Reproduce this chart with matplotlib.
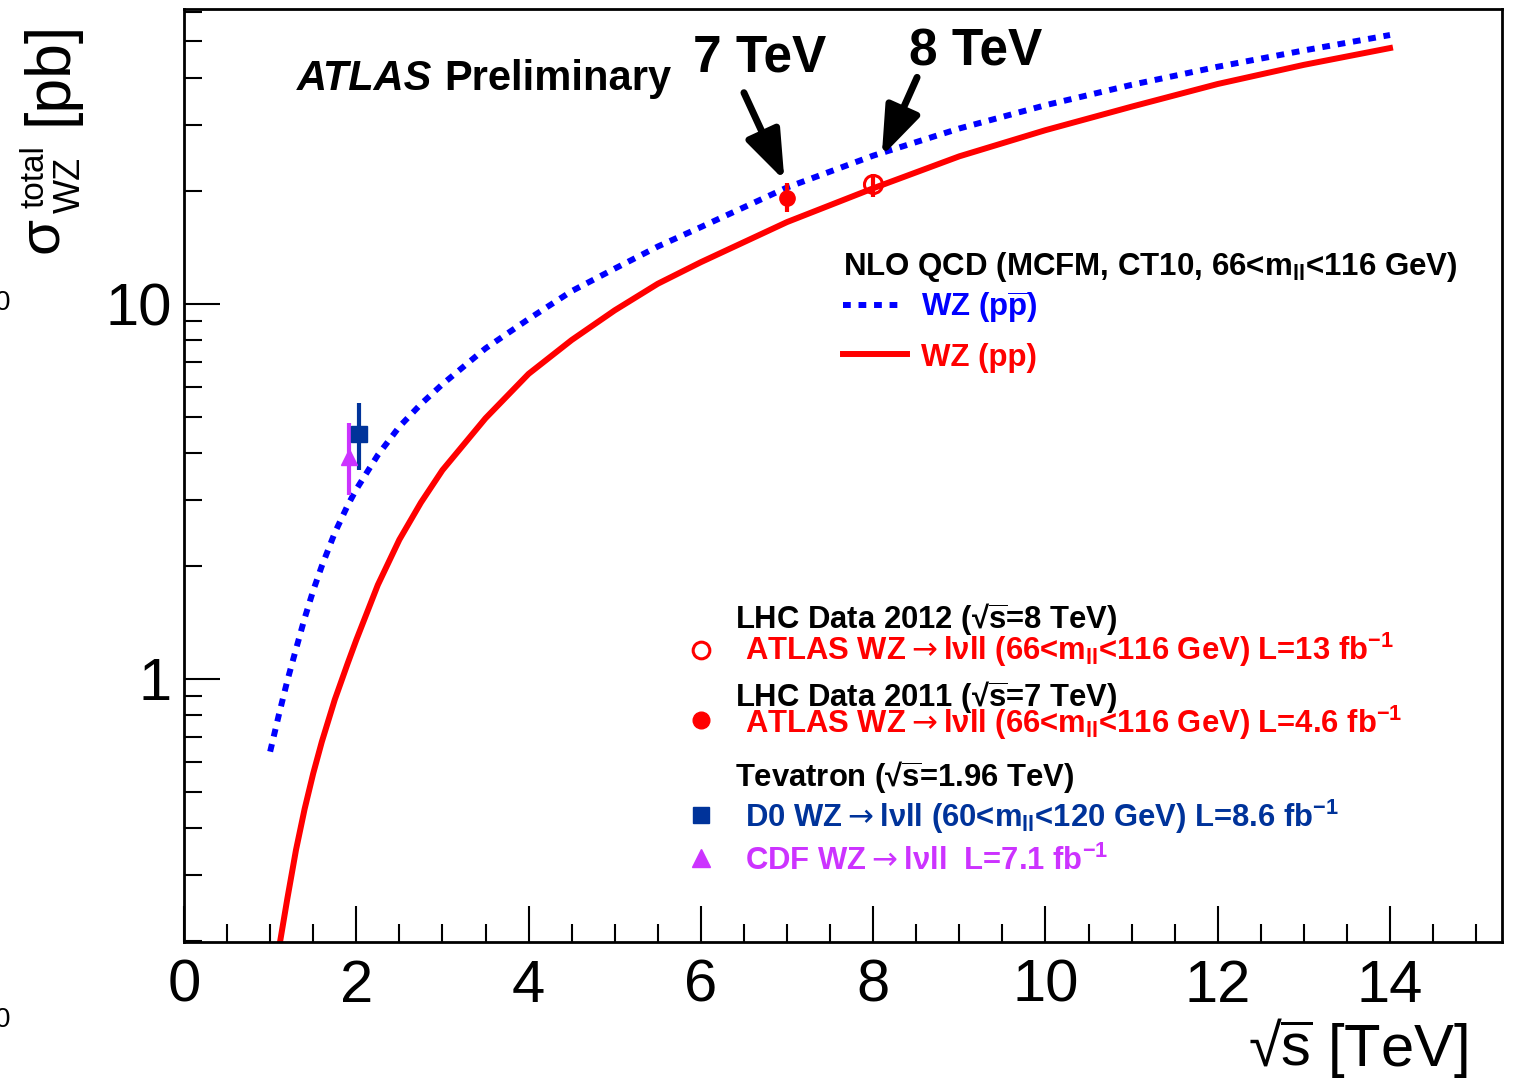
import matplotlib.pyplot as plt
from matplotlib.ticker import FixedLocator, FixedFormatter, NullFormatter, MultipleLocator

plt.rcParams["font.family"] = ["Liberation Sans", "DejaVu Sans"]

W, H = 1517, 1082

# NLO QCD predictions (MCFM, CT10, 66<mll<116 GeV)
pp_sqrts = [1.1, 1.2, 1.3, 1.4, 1.5, 1.6, 1.75, 1.9, 2.0, 2.25, 2.5, 2.75, 3.0, 3.5, 4.0, 4.5, 5.0,
            5.5, 6.0, 7.0, 8.0, 9.0, 10.0, 11.0, 12.0, 13.0, 14.0]
pp_xsec = [0.19, 0.26, 0.35, 0.45, 0.56, 0.68, 0.88, 1.1, 1.27, 1.78, 2.35, 2.95, 3.6, 4.95, 6.5, 8.0, 9.6,
           11.3, 12.9, 16.5, 20.3, 24.7, 29.0, 33.5, 38.5, 43.3, 48.0]
ppbar_sqrts = [1.0, 1.1, 1.2, 1.3, 1.4, 1.5, 1.6, 1.75, 1.9, 2.0, 2.25, 2.5, 2.75, 3.0, 3.5, 4.0, 4.5,
               5.0, 5.5, 6.0, 7.0, 8.0, 9.0, 10.0, 11.0, 12.0, 13.0, 14.0]
ppbar_xsec = [0.64, 0.80, 0.99, 1.2, 1.45, 1.72, 2.0, 2.45, 2.9, 3.2, 3.95, 4.7, 5.4, 6.1, 7.6, 9.1, 10.8,
              12.4, 14.2, 16.0, 20.4, 24.8, 29.3, 33.8, 38.3, 42.8, 47.3, 52.0]

# measurements: position, value, error down, error up
atlas12_x, atlas12_y, atlas12_lo, atlas12_hi = [8.0], [20.8], [1.5], [1.4]
atlas11_x, atlas11_y, atlas11_lo, atlas11_hi = [7.0], [19.1], [1.5], [1.9]
d0_x, d0_y, d0_lo, d0_hi = [2.03], [4.5], [0.9], [0.95]
cdf_x, cdf_y, cdf_lo, cdf_hi = [1.92], [3.9], [0.8], [0.9]

x_major = [0, 2, 4, 6, 8, 10, 12, 14]
y_major = [1, 10]
y_major_labels = ["1", "10"]
y_minor = [0.2, 0.3, 0.4, 0.5, 0.6, 0.7, 0.8, 0.9, 2, 3, 4, 5, 6, 7, 8, 9, 20, 30, 40, 50, 60]

RED = "#ff0000"
BLUE = "#0000ff"
DBLUE = "#00339a"
MAGENTA = "#cc33ff"
SQS = "√$\\overline{\\mathregular{s}}$"
ARR = "$\\rightarrow$"
MLL = "m$_{\\mathregular{ll}}$"
INV = "fb$^{\\mathregular{-1}}$"


def fxy(px, py):
    return px / W, 1 - py / H


fig = plt.figure(figsize=(W / 100, H / 100), dpi=100)
ax = fig.add_axes([184 / W, 1 - 942 / H, (1502 - 184) / W, (942 - 9) / H])

ax.plot(ppbar_sqrts, ppbar_xsec, color=BLUE, lw=4.3, ls=(0, (1.3, 1.3)), dash_capstyle="butt")
ax.plot(pp_sqrts, pp_xsec, color=RED, lw=4.3)

ax.errorbar(atlas12_x, atlas12_y, yerr=[atlas12_lo, atlas12_hi], fmt="o", ms=13, mfc="none",
            mec=RED, mew=2.2, color=RED, elinewidth=3, capsize=0)
ax.errorbar(atlas11_x, atlas11_y, yerr=[atlas11_lo, atlas11_hi], fmt="o", ms=11, color=RED,
            elinewidth=3, capsize=0)
ax.errorbar(cdf_x, cdf_y, yerr=[cdf_lo, cdf_hi], fmt="^", ms=12, color=MAGENTA,
            elinewidth=3, capsize=0)
ax.errorbar(d0_x, d0_y, yerr=[d0_lo, d0_hi], fmt="s", ms=11, color=DBLUE,
            elinewidth=3, capsize=0)

ax.set_yscale("log")
ax.set_xlim(0, 15.3)
ax.set_ylim(0.199, 61)
ax.xaxis.set_major_locator(FixedLocator(x_major))
ax.xaxis.set_minor_locator(MultipleLocator(0.5))
ax.yaxis.set_major_locator(FixedLocator(y_major))
ax.yaxis.set_major_formatter(FixedFormatter(y_major_labels))
ax.yaxis.set_minor_locator(FixedLocator(y_minor))
ax.yaxis.set_minor_formatter(NullFormatter())
ax.tick_params(which="both", direction="in", top=False, right=False, width=1.5)
ax.tick_params(which="major", length=26, labelsize=43)
ax.tick_params(which="minor", length=13)
ax.tick_params(axis="x", which="major", pad=12)
ax.tick_params(axis="y", which="major", pad=9)
for s in ax.spines.values():
    s.set_linewidth(2)

# arrows for 7 and 8 TeV
arrow = dict(arrowstyle="-|>,head_length=0.6,head_width=0.22", lw=5, color="black",
             mutation_scale=50, shrinkA=0, shrinkB=0)
ax.annotate("", xy=(6.97, 21.3), xytext=(6.50, 36.5), arrowprops=arrow)
ax.annotate("", xy=(8.10, 24.7), xytext=(8.51, 40.1), arrowprops=arrow)
fig.text(*fxy(760, 72), "7 TeV", ha="center", va="baseline", size=37, weight="bold")
fig.text(*fxy(976, 66), "8 TeV", ha="center", va="baseline", size=37, weight="bold")

# ATLAS label
fig.text(*fxy(297, 90), "ATLAS", ha="left", va="baseline", size=30, weight="bold", style="italic")
fig.text(*fxy(444, 90), "Preliminary", ha="left", va="baseline", size=30, weight="bold")

# theory legend
fig.text(*fxy(843, 275), "NLO QCD (MCFM, CT10, 66<" + MLL + "<116 GeV)",
         ha="left", va="baseline", size=22.5, weight="bold")
fig.add_artist(plt.Line2D([843 / W, 902 / W], [1 - 305 / H] * 2, color=BLUE, lw=4.3,
                          ls=(0, (1.3, 1.3)), dash_capstyle="butt"))
fig.text(*fxy(921, 317), "WZ (p$\\overline{\\mathregular{p}}$)", ha="left", va="baseline",
         size=22.5, weight="bold", color=BLUE)
fig.add_artist(plt.Line2D([843 / W, 907 / W], [1 - 354 / H] * 2, color=RED, lw=4.3))
fig.text(*fxy(921, 366), "WZ (pp)", ha="left", va="baseline", size=22.5, weight="bold", color=RED)

# data legend
entries = [
    (628, None, None, "LHC Data 2012 (" + SQS + "=8 TeV)", "black"),
    (660, 650, "open", "ATLAS WZ" + ARR + "lνll (66<" + MLL + "<116 GeV) L=13 " + INV, RED),
    (706, None, None, "LHC Data 2011 (" + SQS + "=7 TeV)", "black"),
    (733, 720, "filled", "ATLAS WZ" + ARR + "lνll (66<" + MLL + "<116 GeV) L=4.6 " + INV, RED),
    (786, None, None, "Tevatron (" + SQS + "=1.96 TeV)", "black"),
    (827, 815, "square", "D0 WZ" + ARR + "lνll (60<" + MLL + "<120 GeV) L=8.6 " + INV, DBLUE),
    (870, 858, "triangle", "CDF WZ" + ARR + "lνll  L=7.1 " + INV, MAGENTA),
]
for base, my, kind, label, col in entries:
    x0 = 735 if kind is None else 745
    fig.text(*fxy(x0, base), label, ha="left", va="baseline", size=22.3, weight="bold", color=col)
    if kind is None:
        continue
    mx, myf = fxy(701, my)
    if kind == "open":
        m = plt.Line2D([mx], [myf], marker="o", ms=12, mfc="none", mec=col, mew=2.2, ls="none")
    elif kind == "filled":
        m = plt.Line2D([mx], [myf], marker="o", ms=12, color=col, ls="none")
    elif kind == "square":
        m = plt.Line2D([mx], [myf], marker="s", ms=12, color=col, ls="none")
    else:
        m = plt.Line2D([mx], [myf], marker="^", ms=13, color=col, ls="none")
    fig.add_artist(m)

# axis titles
fig.text(*fxy(1468, 1066), SQS + " [TeV]", ha="right", va="baseline", size=43)
fig.text(*fxy(57, 253), "σ", rotation=90, rotation_mode="anchor", ha="left", va="baseline", size=42)
fig.text(*fxy(43, 208), "total", rotation=90, rotation_mode="anchor", ha="left", va="baseline", size=24)
fig.text(*fxy(80, 213), "WZ", rotation=90, rotation_mode="anchor", ha="left", va="baseline", size=26)
fig.text(*fxy(67, 125), "[pb]", rotation=90, rotation_mode="anchor", ha="left", va="baseline", size=45)

# clipped labels at the left edge
fig.text(*fxy(10, 303), "0", ha="right", va="center", size=20)
fig.text(*fxy(10, 1020), "0", ha="right", va="center", size=20)

fig.savefig("out.png", dpi=100)
